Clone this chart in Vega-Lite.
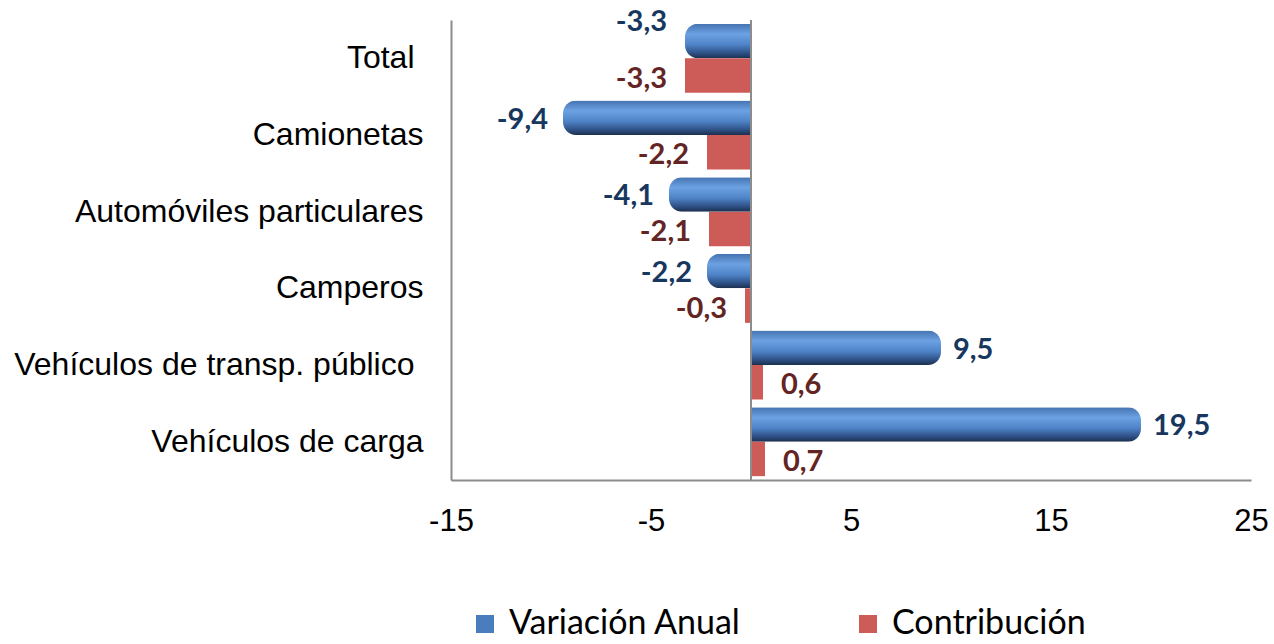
{
  "$schema": "https://vega.github.io/schema/vega-lite/v6.json",
  "autosize": {"type": "none"},
  "padding": {"left": 451, "top": 20, "right": 23, "bottom": 164},
  "width": 800,
  "height": 460,
  "background": "white",
  "config": {
    "view": {"stroke": null},
    "locale": {"number": {"decimal": ",", "thousands": ".", "grouping": [3], "currency": ["", ""], "minus": "-"}},
    "axisY": {"domainColor": "#8C8C8C", "domainWidth": 2, "ticks": false, "grid": false, "labelFont": "Liberation Sans", "labelFontSize": 32, "labelColor": "#000000", "labelLimit": 600},
    "axisX": {"domainColor": "#8C8C8C", "domainWidth": 2, "ticks": false, "grid": false, "labelFont": "Liberation Sans", "labelFontSize": 31, "labelColor": "#000000", "labelPadding": 26, "labelFlush": false, "labelOverlap": false}
  },
  "data": {"values": [
    {"categoria": "Total", "serie": "Variación Anual", "valor": -3.3},
    {"categoria": "Total", "serie": "Contribución", "valor": -3.3},
    {"categoria": "Camionetas", "serie": "Variación Anual", "valor": -9.4},
    {"categoria": "Camionetas", "serie": "Contribución", "valor": -2.2},
    {"categoria": "Automóviles particulares", "serie": "Variación Anual", "valor": -4.1},
    {"categoria": "Automóviles particulares", "serie": "Contribución", "valor": -2.1},
    {"categoria": "Camperos", "serie": "Variación Anual", "valor": -2.2},
    {"categoria": "Camperos", "serie": "Contribución", "valor": -0.3},
    {"categoria": "Vehículos de transp. público", "serie": "Variación Anual", "valor": 9.5},
    {"categoria": "Vehículos de transp. público", "serie": "Contribución", "valor": 0.6},
    {"categoria": "Vehículos de carga", "serie": "Variación Anual", "valor": 19.5},
    {"categoria": "Vehículos de carga", "serie": "Contribución", "valor": 0.7}
  ]},
  "layer": [
    {
      "transform": [{"filter": "datum.serie === 'Contribución'"}],
      "mark": {"type": "bar"},
      "encoding": {
        "y": {"field": "categoria", "type": "nominal", "sort": null, "title": null, "scale": {"paddingInner": 0.1, "paddingOuter": 0.05},
          "axis": {"labelPadding": {"condition": {"test": "datum.label === 'Total' || datum.label === 'Vehículos de transp. público'", "value": 37}, "value": 28}}},
        "yOffset": {"field": "serie", "type": "nominal", "sort": ["Variación Anual", "Contribución"], "scale": {"domain": ["Variación Anual", "Contribución"], "paddingInner": 0, "paddingOuter": 0}},
        "x": {"field": "valor", "type": "quantitative", "title": null, "scale": {"domain": [-15, 25], "nice": false, "zero": false}, "axis": {"values": [-15, -5, 5, 15, 25], "labelExpr": "toString(datum.value)"}},
        "color": {"field": "serie", "type": "nominal", "scale": {"domain": ["Variación Anual", "Contribución"], "range": ["#4A7DBD", "#CD5B57"]},
          "legend": {"orient": "none", "legendX": 17, "legendY": 587, "direction": "horizontal", "title": null, "symbolType": "square", "symbolSize": 324, "symbolStrokeWidth": 0, "labelFont": "Lato", "labelFontSize": 34, "labelColor": "#000000", "labelOffset": 7, "columnPadding": 110, "labelLimit": 400}}
      }
    },
    {
      "transform": [{"filter": "datum.serie === 'Variación Anual' && datum.valor < 0"}],
      "mark": {"type": "bar", "cornerRadiusTopLeft": 13, "cornerRadiusBottomLeft": 13,
        "fill": {"gradient": "linear", "x1": 0, "y1": 0, "x2": 0, "y2": 1, "stops": [
          {"offset": 0, "color": "#4573B0"}, {"offset": 0.3, "color": "#6CA1E3"}, {"offset": 0.6, "color": "#4F84C8"}, {"offset": 0.85, "color": "#2E5085"}, {"offset": 1, "color": "#1B2F4E"}]}},
      "encoding": {
        "y": {"field": "categoria", "type": "nominal", "sort": null, "title": null},
        "yOffset": {"field": "serie", "type": "nominal", "sort": ["Variación Anual", "Contribución"]},
        "x": {"field": "valor", "type": "quantitative", "title": null}
      }
    },
    {
      "transform": [{"filter": "datum.serie === 'Variación Anual' && datum.valor >= 0"}],
      "mark": {"type": "bar", "cornerRadiusTopRight": 13, "cornerRadiusBottomRight": 13,
        "fill": {"gradient": "linear", "x1": 0, "y1": 0, "x2": 0, "y2": 1, "stops": [
          {"offset": 0, "color": "#4573B0"}, {"offset": 0.3, "color": "#6CA1E3"}, {"offset": 0.6, "color": "#4F84C8"}, {"offset": 0.85, "color": "#2E5085"}, {"offset": 1, "color": "#1B2F4E"}]}},
      "encoding": {
        "y": {"field": "categoria", "type": "nominal", "sort": null, "title": null},
        "yOffset": {"field": "serie", "type": "nominal", "sort": ["Variación Anual", "Contribución"]},
        "x": {"field": "valor", "type": "quantitative", "title": null}
      }
    },
    {
      "mark": {"type": "rule", "color": "#8C8C8C", "strokeWidth": 2},
      "encoding": {"x": {"datum": 0, "type": "quantitative"}}
    },
    {
      "transform": [{"filter": "datum.serie === 'Variación Anual' && datum.valor < 0 && datum.categoria !== 'Total'"}],
      "mark": {"type": "text", "align": "right", "baseline": "middle", "dx": -15, "dy": 2, "font": "Lato", "fontWeight": "bold", "fontSize": 29, "color": "#17375E"},
      "encoding": {
        "y": {"field": "categoria", "type": "nominal", "sort": null, "title": null},
        "yOffset": {"field": "serie", "type": "nominal", "sort": ["Variación Anual", "Contribución"]},
        "x": {"field": "valor", "type": "quantitative", "title": null},
        "text": {"field": "valor", "type": "quantitative", "format": ".1f"}
      }
    },
    {
      "transform": [{"filter": "datum.serie === 'Variación Anual' && datum.valor < 0 && datum.categoria === 'Total'"}],
      "mark": {"type": "text", "align": "right", "baseline": "middle", "dx": -18, "dy": -19, "font": "Lato", "fontWeight": "bold", "fontSize": 29, "color": "#17375E"},
      "encoding": {
        "y": {"field": "categoria", "type": "nominal", "sort": null, "title": null},
        "yOffset": {"field": "serie", "type": "nominal", "sort": ["Variación Anual", "Contribución"]},
        "x": {"field": "valor", "type": "quantitative", "title": null},
        "text": {"field": "valor", "type": "quantitative", "format": ".1f"}
      }
    },
    {
      "transform": [{"filter": "datum.serie === 'Variación Anual' && datum.valor >= 0"}],
      "mark": {"type": "text", "align": "left", "baseline": "middle", "dx": 12, "dy": 2, "font": "Lato", "fontWeight": "bold", "fontSize": 29, "color": "#17375E"},
      "encoding": {
        "y": {"field": "categoria", "type": "nominal", "sort": null, "title": null},
        "yOffset": {"field": "serie", "type": "nominal", "sort": ["Variación Anual", "Contribución"]},
        "x": {"field": "valor", "type": "quantitative", "title": null},
        "text": {"field": "valor", "type": "quantitative", "format": ".1f"}
      }
    },
    {
      "transform": [{"filter": "datum.serie === 'Contribución' && datum.valor < 0"}],
      "mark": {"type": "text", "align": "right", "baseline": "middle", "dx": -18, "dy": 3, "font": "Lato", "fontWeight": "bold", "fontSize": 29, "color": "#632523"},
      "encoding": {
        "y": {"field": "categoria", "type": "nominal", "sort": null, "title": null},
        "yOffset": {"field": "serie", "type": "nominal", "sort": ["Variación Anual", "Contribución"]},
        "x": {"field": "valor", "type": "quantitative", "title": null},
        "text": {"field": "valor", "type": "quantitative", "format": ".1f"}
      }
    },
    {
      "transform": [{"filter": "datum.serie === 'Contribución' && datum.valor >= 0"}],
      "mark": {"type": "text", "align": "left", "baseline": "middle", "dx": 18, "dy": 3, "font": "Lato", "fontWeight": "bold", "fontSize": 29, "color": "#632523"},
      "encoding": {
        "y": {"field": "categoria", "type": "nominal", "sort": null, "title": null},
        "yOffset": {"field": "serie", "type": "nominal", "sort": ["Variación Anual", "Contribución"]},
        "x": {"field": "valor", "type": "quantitative", "title": null},
        "text": {"field": "valor", "type": "quantitative", "format": ".1f"}
      }
    }
  ]
}
